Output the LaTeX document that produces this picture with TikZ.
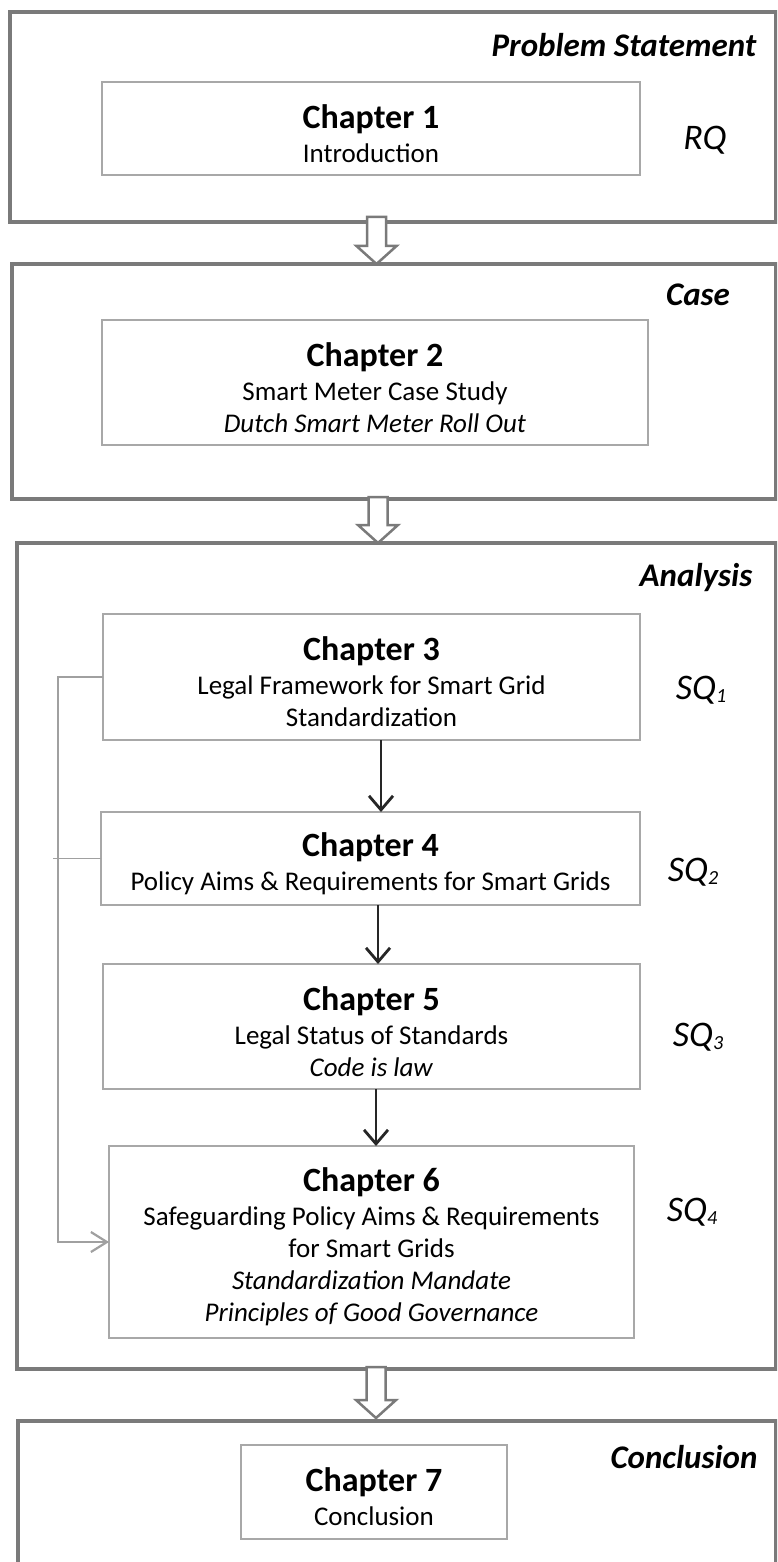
\documentclass[tikz,border=0pt]{standalone}
\usepackage{fontspec}
\setmainfont{Carlito}
\usetikzlibrary{arrows.meta,calc}
\definecolor{framegray}{HTML}{7A7A7A}
\definecolor{boxgray}{HTML}{A8A8A8}
\definecolor{conngray}{HTML}{A0A0A0}
\newcommand\chbody{\fontsize{27pt}{32pt}\selectfont}
\newcommand\chtitle[1]{{\fontsize{34pt}{36pt}\selectfont\bfseries #1}}
\newcommand\qsub[1]{\raisebox{-3pt}{\fontsize{20pt}{22pt}\selectfont #1}}
\newcommand\hollowarrow[2]{%
  \draw[hollow] ($(#1)+(-9.5,0)$) -- ($(#2)+(-9.5,-18)$) -- ($(#2)+(-20,-18)$) -- (#2)
    -- ($(#2)+(20,-18)$) -- ($(#2)+(9.5,-18)$) -- ($(#1)+(9.5,0)$) -- cycle;}
\begin{document}
\begin{tikzpicture}[x=1pt,y=-1pt,
  frame/.style={draw=framegray, line width=3.5pt, inner sep=0pt, outer sep=0pt},
  chbox/.style={draw=boxgray, line width=1.5pt, fill=white, inner sep=0pt, outer sep=0pt},
  chtext/.style={align=center, font=\chbody, inner sep=0pt, yshift=-5pt},
  heading/.style={font=\fontsize{33pt}{40pt}\selectfont\bfseries\itshape, inner sep=0pt},
  qlabel/.style={font=\fontsize{36pt}{40pt}\selectfont\itshape, inner sep=0pt},
  hollow/.style={draw=framegray, line width=2.5pt, fill=white, line join=miter},
  flow/.style={draw=black!85, line width=1.6pt, -{Straight Barb[length=14pt,width=24pt,line width=2.8pt]}},
  conn/.style={draw=conngray, line width=1.5pt}
]
\useasboundingbox (0,0) rectangle (777,1562);
\fill[white] (0,0) rectangle (777,1562);
\clip (0,0) rectangle (777,1562);

% frames
\node[frame, minimum width=766pt, minimum height=210pt] (fr1) at (393,117) {};
\node[frame, minimum width=764pt, minimum height=235pt] (fr2) at (394,381.5) {};
\node[frame, minimum width=759pt, minimum height=826pt] (fr3) at (396.5,956) {};
\node[frame, minimum width=758pt, minimum height=200pt] (fr4) at (397,1521) {};

% headings
\node[heading] (hd1) at (624,45) {Problem Statement};
\node[heading] (hd2) at (698,295) {Case};
\node[heading] (hd3) at (696,578) {Analysis};
\node[heading] (hd4) at (684,1457) {Conclusion};

% chapter boxes
\node[chbox, minimum width=538pt, minimum height=93pt] (ch1) at (371,128.5) {};
\node[chbox, minimum width=546pt, minimum height=125pt] (ch2) at (375,382.5) {};
\node[chbox, minimum width=537pt, minimum height=126pt] (ch3) at (371.5,677) {};
\node[chbox, minimum width=539pt, minimum height=93pt] (ch4) at (370.5,858.5) {};
\node[chbox, minimum width=537pt, minimum height=125pt] (ch5) at (371.5,1026.5) {};
\node[chbox, minimum width=525pt, minimum height=192pt] (ch6) at (371.5,1242) {};
\node[chbox, minimum width=266pt, minimum height=94pt] (ch7) at (374,1492) {};

% chapter texts
\node[chtext] (t1) at (ch1) {\chtitle{Chapter 1}\\[2pt] Introduction};
\node[chtext] (t2) at (ch2) {\chtitle{Chapter 2}\\[2pt] Smart Meter Case Study\\ \textit{Dutch Smart Meter Roll Out}};
\node[chtext] (t3) at (ch3) {\chtitle{Chapter 3}\\[2pt] Legal Framework for Smart Grid\\ Standardization};
\node[chtext] (t4) at (ch4) {\chtitle{Chapter 4}\\[2pt] Policy Aims \& Requirements for Smart Grids};
\node[chtext] (t5) at (ch5) {\chtitle{Chapter 5}\\[2pt] Legal Status of Standards\\ \textit{Code is law}};
\node[chtext] (t6) at (ch6) {\chtitle{Chapter 6}\\[2pt] Safeguarding Policy Aims \& Requirements\\ for Smart Grids\\ \textit{Standardization Mandate}\\ \textit{Principles of Good Governance}};
\node[chtext] (t7) at (ch7) {\chtitle{Chapter 7}\\[2pt] Conclusion};

% question labels
\node[qlabel] (rq) at (705,140) {RQ};
\node[qlabel] (sq1) at (701,690) {SQ\qsub{1}};
\node[qlabel] (sq2) at (693,872) {SQ\qsub{2}};
\node[qlabel] (sq3) at (698,1037) {SQ\qsub{3}};
\node[qlabel] (sq4) at (692,1212) {SQ\qsub{4}};

% flow arrows inside analysis
\draw[flow] ([xshift=9.5pt]ch3.south) -- ([xshift=9.5pt]ch3.south |- ch4.north);
\draw[flow] ([xshift=7.5pt]ch4.south) -- ([xshift=7.5pt]ch4.south |- ch5.north);
\draw[flow] ([xshift=4.5pt]ch5.south) -- ([xshift=4.5pt]ch5.south |- ch6.north);

% side connector
\coordinate (bus) at ([xshift=-45pt]ch3.west);
\coordinate (c4end) at ([xshift=-48pt]ch4.west);
\draw[conn, -{Straight Barb[length=16pt,width=20pt,line width=2.2pt]}] (ch3.west) -- (bus) |- (ch6.west);
\draw[conn] (ch4.west) -- (c4end);

% hollow arrows between frames
\coordinate (a1s) at ([xshift=-16.5pt,yshift=5pt]fr1.south);
\coordinate (a1e) at ([xshift=-16.5pt]fr1.south |- fr2.north);
\coordinate (a2s) at ([xshift=-16pt,yshift=2pt]fr2.south);
\coordinate (a2e) at ([xshift=-16pt]fr2.south |- fr3.north);
\coordinate (a3s) at ([xshift=-20.5pt,yshift=2pt]fr3.south);
\coordinate (a3e) at ([xshift=-20.5pt,yshift=3pt]fr3.south |- fr4.north);
\hollowarrow{a1s}{a1e}
\hollowarrow{a2s}{a2e}
\hollowarrow{a3s}{a3e}
\end{tikzpicture}
\end{document}
